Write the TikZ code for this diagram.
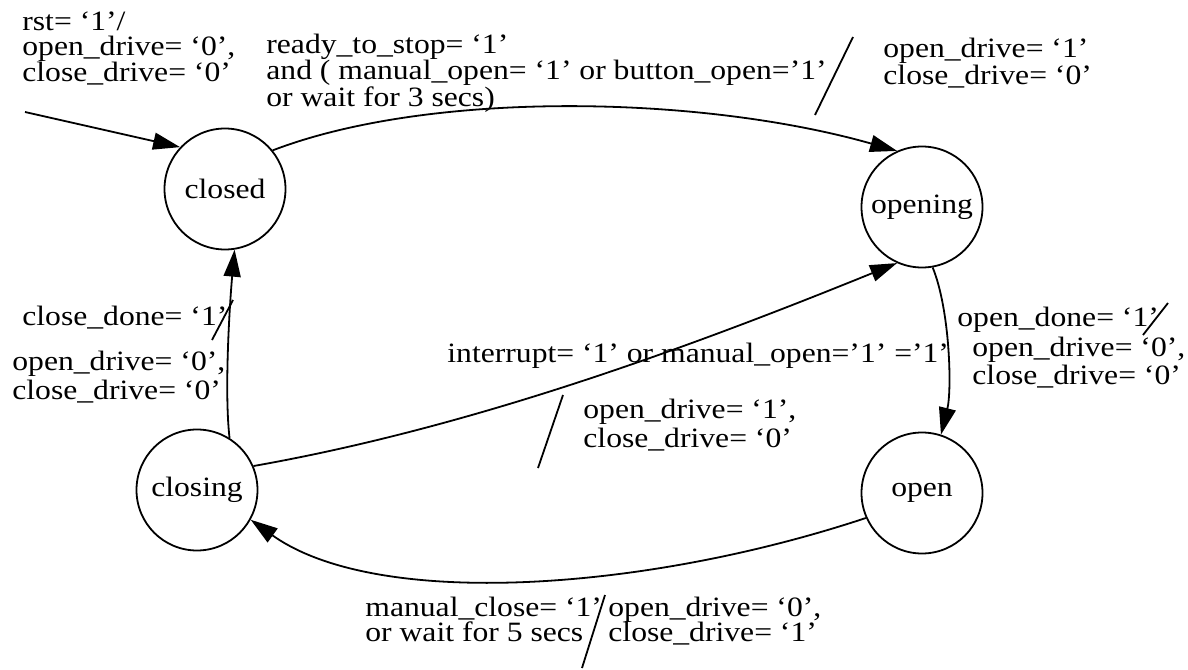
\documentclass[tikz,border=0pt]{standalone}
\usepackage{fontspec}
\setmainfont{Liberation Serif}[FakeStretch=1.13]
\usetikzlibrary{arrows.meta}
% stacked lines with a fixed baseline distance; the node's base is the first line
\newcommand\rows[2]{\vtop{\baselineskip=#1\lineskiplimit=-\maxdimen\lineskip=0pt #2}}
\tikzset{
  state/.style={circle, draw, line width=0.9pt, minimum size=60.5pt, inner sep=0pt},
  lbl/.style={anchor=base west, inner sep=0pt},
  edge/.style={line width=0.9pt, -{Triangle[length=13.5pt,width=8.5pt]}},
  bar/.style={line width=0.9pt},
}
\begin{document}
\begin{tikzpicture}[x=0.5pt, y=-0.5pt, font=\fontsize{14pt}{16pt}\selectfont]
\useasboundingbox (0,0) rectangle (1188,669);

% states
\node[state] (closed)  at (225,189) {closed};
\node[state] (opening) at (922,207) {opening};
\node[state] (closing) at (197,490) {closing};
\node[state] (open)    at (922,493) {open};

% transitions
\coordinate (init) at (25,112);
\draw[edge] (init) -- (closed.137);
\draw[edge] (closed.39) .. controls (430,90) and (700,95) .. (opening.114);
\draw[edge] (opening.-80) .. controls (950,310) and (952,390) .. (open.72);
\draw[edge] (open.-156) .. controls (646,591) and (377,610) .. (closing.-29);
\draw[edge] (closing.23) .. controls (469,428) and (683,350) .. (opening.-114);
\draw[edge] (closing.58) .. controls (224,390) and (230,300) .. (closed.-81);

% condition / action separators
\coordinate (s1a) at (815,115);  \coordinate (s1b) at (853,37);
\coordinate (s2a) at (212,340);  \coordinate (s2b) at (233,300);
\coordinate (s3a) at (538,468);  \coordinate (s3b) at (563,395);
\coordinate (s4a) at (1143,335); \coordinate (s4b) at (1168,303);
\coordinate (s5a) at (582,668);  \coordinate (s5b) at (605,595);
\draw[bar] (s1a) -- (s1b);
\draw[bar] (s2a) -- (s2b);
\draw[bar] (s3a) -- (s3b);
\draw[bar] (s4a) -- (s4b);
\draw[bar] (s5a) -- (s5b);

% labels
\node[lbl] (rstlbl) at (22,31)
  {\rows{12.5pt}{\hbox{rst= ‘1’/}\hbox{open\_drive= ‘0’,}\hbox{close\_drive= ‘0’}}};
\node[lbl] (startcond) at (266,54)
  {\rows{13pt}{\hbox{ready\_to\_stop= ‘1’}\hbox{and ( manual\_open= ‘1’ or button\_open=’1’}\hbox{or wait for 3 secs)}}};
\node[lbl] (startact) at (883,57)
  {\rows{13.5pt}{\hbox{open\_drive= ‘1’}\hbox{close\_drive= ‘0’}}};
\node[lbl] (donecond) at (22,325) {close\_done= ‘1’};
\node[lbl] (doneact) at (12,370)
  {\rows{14.5pt}{\hbox{open\_drive= ‘0’,}\hbox{close\_drive= ‘0’}}};
\node[lbl] (intcond) at (447,362) {interrupt= ‘1’ or manual\_open=’1’ =’1’};
\node[lbl] (intact) at (583,418)
  {\rows{14.5pt}{\hbox{open\_drive= ‘1’,}\hbox{close\_drive= ‘0’}}};
\node[lbl] (odcond) at (957,326) {open\_done= ‘1’};
\node[lbl] (odact) at (972,356)
  {\rows{14pt}{\hbox{open\_drive= ‘0’,}\hbox{close\_drive= ‘0’}}};
\node[lbl] (mccond) at (365,616)
  {\rows{12.5pt}{\hbox{manual\_close= ‘1’}\hbox{or wait for 5 secs}}};
\node[lbl] (mcact) at (608,616)
  {\rows{12.5pt}{\hbox{open\_drive= ‘0’,}\hbox{close\_drive= ‘1’}}};
\end{tikzpicture}
\end{document}
